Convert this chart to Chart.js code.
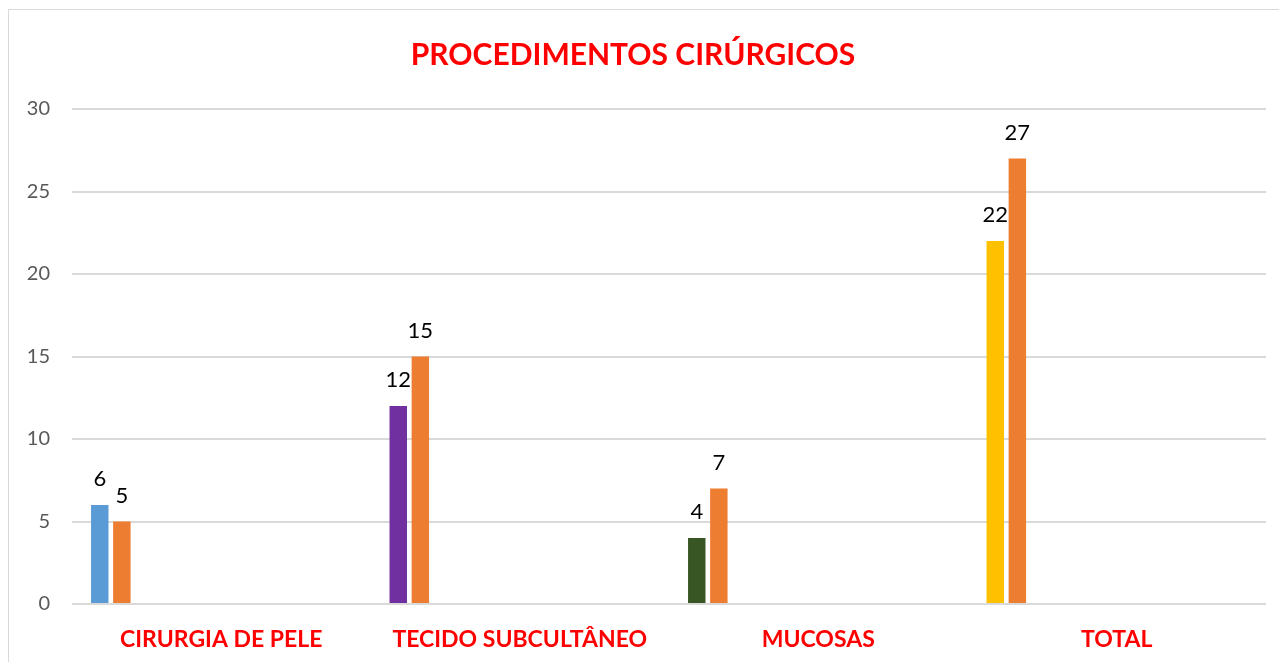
<!DOCTYPE html>
<html>
<head>
<meta charset="utf-8">
<script src="https://cdn.jsdelivr.net/npm/chart.js@4"></script>
<style>
  body { margin: 0; background: #fff; }
  #box { position: absolute; left: 8px; top: 9px; width: 1300px; height: 700px; border: 1px solid #d9d9d9; }
  #wrap { position: absolute; left: 0; top: 0; width: 1279px; height: 662px; }
</style>
</head>
<body>
<div id="box"></div>
<div id="wrap"><canvas id="myChart"></canvas></div>
<script>
const categories = ['CIRURGIA DE PELE', 'TECIDO SUBCULTÂNEO', 'MUCOSAS', 'TOTAL'];
const firstValues = [6, 12, 4, 22];
const secondValues = [5, 15, 7, 27];
const firstColors = ['#5b9bd5', '#7030a0', '#375623', '#ffc000'];
const orange = '#ed7d31';
const yTicks = [0, 5, 10, 15, 20, 25, 30];

// the original sheet reserves room for more series, so add empty ones
var datasets = [{
    data: firstValues,
    backgroundColor: firstColors,
    showLabels: true
}, {
    data: secondValues,
    backgroundColor: orange,
    showLabels: true
}];
for (let i = 0; i < 10; i++) {
  datasets.push({ data: [null, null, null, null], backgroundColor: orange });
}

const barLabels = {
  id: 'barLabels',
  afterDatasetsDraw(chart) {
    const ctx = chart.ctx;
    ctx.save();
    ctx.font = '22px Lato';
    ctx.fillStyle = '#000';
    ctx.textAlign = 'center';
    ctx.textBaseline = 'alphabetic';
    chart.data.datasets.forEach((ds, i) => {
      if (!ds.showLabels) return;
      chart.getDatasetMeta(i).data.forEach((bar, j) => {
        ctx.fillText(ds.data[j], bar.x, bar.y - 19);
      });
    });
    ctx.restore();
  }
};

const config = {
  type: 'bar',
  data: { labels: categories, datasets: datasets },
  plugins: [barLabels],
  options: {
    responsive: true,
    maintainAspectRatio: false,
    animation: false,
    categoryPercentage: 0.888,
    barPercentage: 0.79,
    layout: { padding: { left: 0, right: 13, top: 20, bottom: 0 } },
    plugins: {
      legend: { display: false },
      tooltip: { enabled: false },
      title: {
        display: true,
        text: 'PROCEDIMENTOS CIRÚRGICOS',
        color: '#ff0000',
        font: { family: 'Lato', size: 30, weight: 'bold' },
        padding: { top: 17, bottom: 36 }
      }
    },
    scales: {
      x: {
        grid: { display: false },
        border: { display: false },
        afterFit: (scale) => { scale.height = 58; },
        ticks: {
          color: '#ff0000',
          padding: 14,
          font: { family: 'Lato', size: 23, weight: 'bold' }
        }
      },
      y: {
        min: 0,
        max: 30,
        afterBuildTicks: (scale) => { scale.ticks = yTicks.map(v => ({ value: v })); },
        afterFit: (scale) => { scale.width = 72; },
        grid: { color: '#d9d9d9', lineWidth: 2, drawTicks: false },
        border: { display: false },
        ticks: {
          color: '#595959',
          padding: 22,
          font: { family: 'Lato', size: 20 }
        }
      }
    }
  }
};

var myChart = new Chart(document.getElementById('myChart'), config);
</script>
</body>
</html>
